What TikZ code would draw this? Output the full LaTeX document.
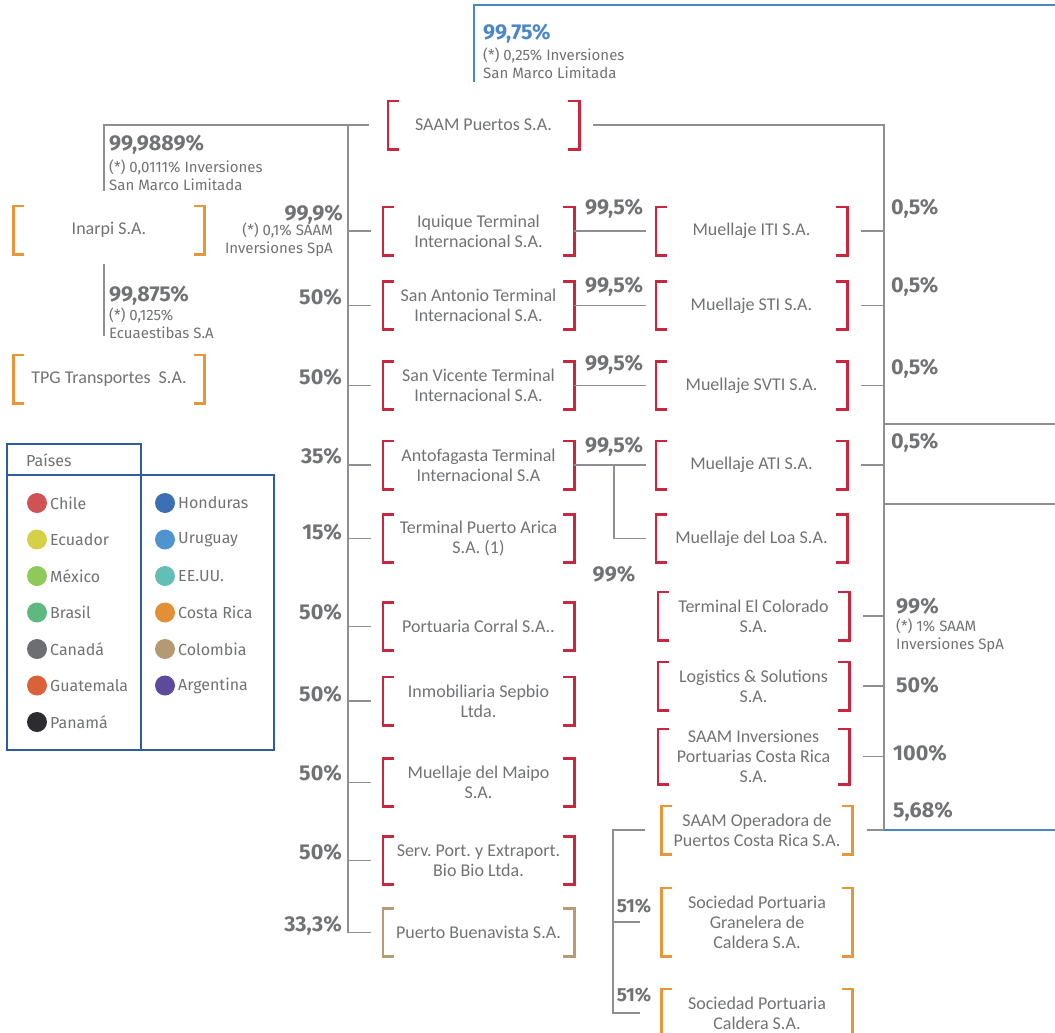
\documentclass[tikz,border=0pt]{standalone}
\usepackage{fontspec}
\setmainfont{Fira Sans}
\newfontfamily\boxfont{Carlito}
\frenchspacing
\usetikzlibrary{positioning,calc}
\definecolor{txtgray}{HTML}{707274}
\definecolor{linegray}{HTML}{8D8F92}
\definecolor{brkred}{HTML}{C8283F}
\definecolor{brkorange}{HTML}{E8963A}
\definecolor{brktan}{HTML}{B89B74}
\definecolor{toblue}{HTML}{4A87C6}
\definecolor{legblue}{HTML}{2D5D9F}
\definecolor{cchile}{HTML}{D05255}
\definecolor{cecuador}{HTML}{D6CF48}
\definecolor{cmexico}{HTML}{8FC95A}
\definecolor{cbrasil}{HTML}{5FB87E}
\definecolor{ccanada}{HTML}{6D6E71}
\definecolor{cguate}{HTML}{D9623B}
\definecolor{cpanama}{HTML}{2C2C30}
\definecolor{chondu}{HTML}{3B70B5}
\definecolor{curu}{HTML}{4F93CF}
\definecolor{ceeuu}{HTML}{63BFB5}
\definecolor{ccosta}{HTML}{E38F35}
\definecolor{ccolom}{HTML}{B39A72}
\definecolor{cargen}{HTML}{5E4A9A}
\tikzset{
  cbox/.style={minimum width=191pt,minimum height=48pt,inner sep=0pt,align=center,
    text=txtgray,font=\boxfont\fontsize{18}{20}\selectfont},
  conn/.style={draw=linegray,line width=1.2pt},
  bline/.style={draw=toblue,line width=2pt},
  brk/.style={line width=2.6pt},
  pct/.style={text=txtgray,font=\bfseries\fontsize{21.5}{24}\selectfont,inner sep=0pt},
  note/.style={text=txtgray,font=\fontsize{15}{17.5}\selectfont,inner sep=0pt},
  leg/.style={text=txtgray,font=\fontsize{16}{18}\selectfont,inner sep=0pt,anchor=west},
}
\begin{document}
\begin{tikzpicture}[x=1pt,y=-1pt]
\useasboundingbox (0,0) rectangle (1055,1033);
\node[cbox] (puertos) at (483.5,125) {SAAM Puertos S.A.};
\node[cbox] (inarpi) at (109,230) {Inarpi S.A.};
\node[cbox] (tpg) at (109,379) {TPG Transportes~ S.A.};
\node[cbox] (iquique) at (478.5,231) {Iquique Terminal\\Internacional S.A.};
\node[cbox] (sanantonio) at (478.5,305.5) {San Antonio Terminal\\Internacional S.A.};
\node[cbox] (sanvicente) at (478.5,385.5) {San Vicente Terminal\\Internacional S.A.};
\node[cbox] (antofa) at (478.5,465) {Antofagasta Terminal\\Internacional S.A};
\node[cbox] (arica) at (478.5,538.5) {Terminal Puerto Arica\\S.A. (1)};
\node[cbox] (corral) at (478.5,626.5) {Portuaria Corral S.A..};
\node[cbox] (sepbio) at (478.5,701) {Inmobiliaria Sepbio\\Ltda.};
\node[cbox] (maipo) at (478.5,782.5) {Muellaje del Maipo\\S.A.};
\node[cbox] (biobio) at (478.5,860.5) {Serv. Port. y Extraport.\\Bio Bio Ltda.};
\node[cbox] (buenavista) at (478.5,932.5) {Puerto Buenavista S.A.};
\node[cbox] (muiti) at (751.5,231) {Muellaje ITI S.A.};
\node[cbox] (musti) at (751.5,305.5) {Muellaje STI S.A.};
\node[cbox] (musvti) at (751.5,385.5) {Muellaje SVTI S.A.};
\node[cbox] (muati) at (751.5,465) {Muellaje ATI S.A.};
\node[cbox] (muloa) at (751.5,538.5) {Muellaje del Loa S.A.};
\node[cbox] (colorado) at (753.5,616) {Terminal El Colorado\\S.A.};
\node[cbox] (logistics) at (753.5,686) {Logistics \& Solutions\\S.A.};
\node[cbox,minimum height=55pt] (invcr) at (753.5,756.5) {SAAM Inversiones\\Portuarias Costa Rica\\S.A.};
\node[cbox] (operadora) at (757,830) {SAAM Operadora de\\Puertos Costa Rica S.A.};
\node[cbox,minimum height=68pt] (granelera) at (757,922) {Sociedad Portuaria\\Granelera de\\Caldera S.A.};
\node[cbox] (caldera) at (757,1013) {Sociedad Portuaria\\Caldera S.A.};
\foreach \n/\col in {puertos/brkred,inarpi/brkorange,tpg/brkorange,iquique/brkred,
  sanantonio/brkred,sanvicente/brkred,antofa/brkred,arica/brkred,corral/brkred,
  sepbio/brkred,maipo/brkred,biobio/brkred,buenavista/brktan,muiti/brkred,
  musti/brkred,musvti/brkred,muati/brkred,muloa/brkred,colorado/brkred,
  logistics/brkred,invcr/brkred,operadora/brkorange,granelera/brkorange,caldera/brkorange}{
  \draw[brk,\col] ([xshift=11pt]\n.north west) -- (\n.north west) -- (\n.south west) -- ([xshift=11pt]\n.south west);
  \draw[brk,\col] ([xshift=-11pt]\n.north east) -- (\n.north east) -- (\n.south east) -- ([xshift=-11pt]\n.south east);
}
\coordinate (ltop) at (348,125);
\coordinate (lcorner) at (104,125);
\coordinate (rtop) at (884,125);
\coordinate (loaj) at (614,465);
\coordinate (opj) at (613,830);
\coordinate (gr1) at (1055,424);
\coordinate (gr2) at (1055,504);
\coordinate (bfoot) at (474,82);
\coordinate (btop) at (474,5);
\coordinate (bend) at (1055,5);
\coordinate (bout) at (1055,830);
\draw[bline] (bfoot) -- (btop) -- (bend);
\draw[conn] ([xshift=-19pt]puertos.west) -- (lcorner) -- ([xshift=-5pt,yshift=15pt]inarpi.north);
\draw[conn] ([xshift=-5pt,yshift=-10pt]inarpi.south) -- ([xshift=-5pt,yshift=19pt]tpg.north);
\draw[conn] (ltop) |- ([xshift=-12pt]buenavista.west);
\foreach \n in {iquique,sanantonio,sanvicente,antofa,arica,corral,sepbio,maipo,biobio}
  \draw[conn] (ltop |- \n.west) -- ([xshift=-12pt]\n.west);
\draw[conn] ([xshift=14pt]puertos.east) -- (rtop) -- (rtop |- operadora.east);
\foreach \n in {muiti,musti,musvti,muati,colorado,logistics,invcr,operadora}
  \draw[conn] ([xshift=14pt]\n.east) -- (rtop |- \n.east);
\draw[conn] (rtop |- gr1) -- (gr1);
\draw[conn] (rtop |- gr2) -- (gr2);
\draw[bline] (rtop |- bout) -- (bout);
\draw[conn] (iquique.east) -- ([xshift=-10pt]muiti.west);
\draw[conn] (sanantonio.east) -- ([xshift=-10pt]musti.west);
\draw[conn] (sanvicente.east) -- ([xshift=-10pt]musvti.west);
\draw[conn] (antofa.east) -- ([xshift=-10pt]muati.west);
\draw[conn] (loaj) |- ([xshift=-10pt]muloa.west);
\draw[conn] ([xshift=-16pt]operadora.west) -- (opj) |- ([xshift=-21pt]caldera.west);
\draw[conn] (opj |- granelera.west) -- ([xshift=-21pt]granelera.west);
\node[pct,text=toblue,anchor=west] (p1) at (483,34) {99,75\%};
\node[note,anchor=north west,align=left] (n1) at (483,48) {(*) 0,25\% Inversiones\\San Marco Limitada};
\node[pct,anchor=west] (p2) at (109,145) {99,9889\%};
\node[note,anchor=north west,align=left] (n2) at (109,160) {(*) 0,0111\% Inversiones\\San Marco Limitada};
\node[pct,anchor=east] (p3) at (343,215) {99,9\%};
\node[note,anchor=north east,align=right] (n3) at (333,223) {(*) 0,1\% SAAM\\Inversiones SpA};
\node[pct,anchor=west] (p4) at (109,296) {99,875\%};
\node[note,anchor=north west,align=left] (n4) at (109,308) {(*) 0,125\%\\Ecuaestibas S.A};
\foreach \v/\y [count=\i] in {50\%/297,50\%/377,35\%/456,15\%/532,50\%/612,50\%/694,50\%/773,50\%/852,{33,3\%}/926}
  \node[pct,anchor=east] (lp\i) at (342,\y) {\v};
\foreach \y [count=\i] in {209,287,365,447}
  \node[pct] (mp\i) at (614,\y) {99,5\%};
\node[pct] (mp5) at (614,574) {99\%};
\foreach \y [count=\i] in {209,287,369,443}
  \node[pct,anchor=west] (rp\i) at (891,\y) {0,5\%};
\node[pct,anchor=west] (rp5) at (896,606) {99\%};
\node[note,anchor=north west,align=left] (n5) at (896,619) {(*) 1\% SAAM\\Inversiones SpA};
\node[pct,anchor=west] (rp6) at (896,685) {50\%};
\node[pct,anchor=west] (rp7) at (893,753) {100\%};
\node[pct,anchor=west] (rp8) at (893,812) {5,68\%};
\node[pct,font=\bfseries\fontsize{19}{21}\selectfont] (cp1) at (634,906) {51\%};
\node[pct,font=\bfseries\fontsize{19}{21}\selectfont] (cp2) at (634,995) {51\%};
\draw[legblue,line width=1.2pt] (7,444) rectangle (141,475);
\draw[legblue,line width=1.2pt] (7,475) rectangle (141,750);
\draw[legblue,line width=1.2pt] (141,475) rectangle (274,750);
\node[leg] (paises) at (26,460) {Países};
\foreach \name/\col [count=\i] in {Chile/cchile,Ecuador/cecuador,México/cmexico,Brasil/cbrasil,
  Canadá/ccanada,Guatemala/cguate,Panamá/cpanama}{
  \fill[\col] (37,{503+36.5*(\i-1)}) circle (10pt);
  \node[leg] (la\i) at (50,{503+36.5*(\i-1)}) {\name};
}
\foreach \name/\col [count=\i] in {Honduras/chondu,Uruguay/curu,EE.UU./ceeuu,Costa Rica/ccosta,
  Colombia/ccolom,Argentina/cargen}{
  \fill[\col] (165,{503+36.5*(\i-1)}) circle (10pt);
  \node[leg] (lb\i) at (178,{503+36.5*(\i-1)}) {\name};
}
\end{tikzpicture}
\end{document}
